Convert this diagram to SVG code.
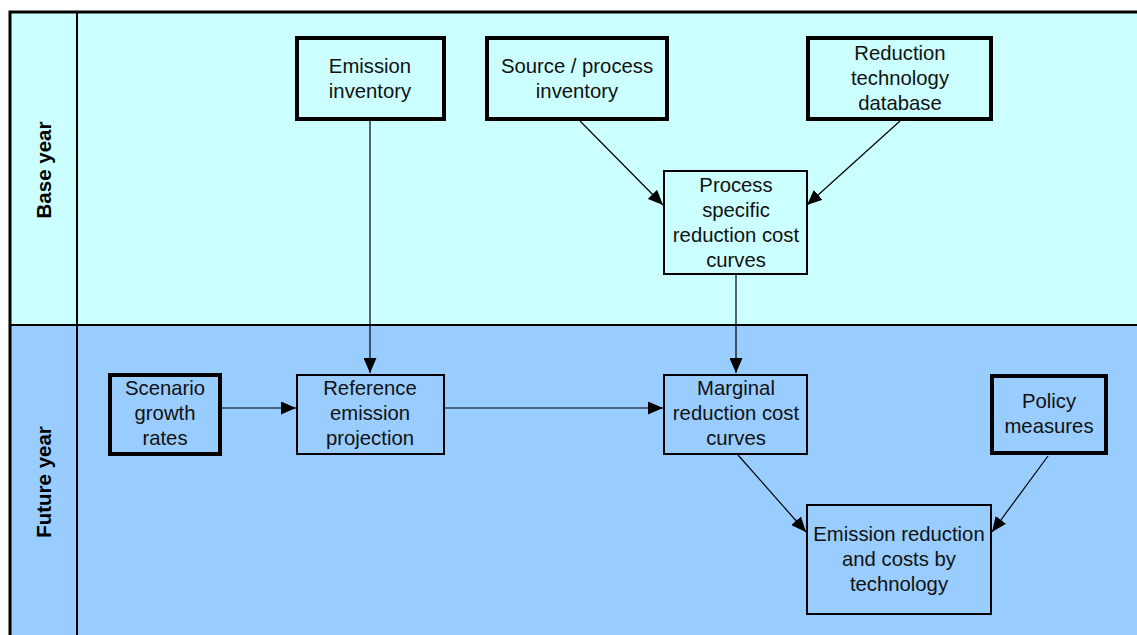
<svg xmlns="http://www.w3.org/2000/svg" width="1137" height="635" viewBox="0 0 1137 635">
<defs>
<style>
.t{font-family:"Liberation Sans",Arial,sans-serif;font-size:20.3px;fill:#111;text-anchor:middle}
.lane{font-family:"Liberation Sans",Arial,sans-serif;font-size:20.5px;font-weight:bold;fill:#000;text-anchor:middle}
.thick{stroke:#000;stroke-width:4}
.thin{stroke:#000;stroke-width:2}
.top{fill:#CCFFFF}
.bot{fill:#99CCFF}
.c{stroke:#000;stroke-width:1.2;fill:none;marker-end:url(#ah)}
</style>
<marker id="ah" viewBox="0 0 15 13" refX="15" refY="6.5" markerWidth="15" markerHeight="13" markerUnits="userSpaceOnUse" orient="auto">
<path d="M0,0 L15,6.5 L0,13 z" fill="#000"/>
</marker>
</defs>
<rect x="0" y="0" width="1137" height="635" fill="#fff"/>
<g id="lanes">
<rect x="10" y="12" width="1140" height="313" fill="#CCFFFF"/>
<rect x="10" y="325" width="1140" height="320" fill="#99CCFF"/>
<line x1="10" y1="325" x2="1140" y2="325" stroke="#000" stroke-width="2"/>
<line x1="77" y1="12" x2="77" y2="640" stroke="#000" stroke-width="2"/>
<rect x="10" y="12" width="1140" height="640" fill="none" stroke="#000" stroke-width="3"/>
<text class="lane" transform="translate(51,170) rotate(-90)">Base year</text>
<text class="lane" transform="translate(51,482) rotate(-90)">Future year</text>
</g>
<g id="connectors">
<line class="c" x1="370" y1="121" x2="370" y2="373"/>
<line class="c" x1="580" y1="121" x2="663" y2="205"/>
<line class="c" x1="900" y1="121" x2="807" y2="205"/>
<line class="c" x1="736" y1="274" x2="736" y2="373"/>
<line class="c" x1="221" y1="408" x2="296" y2="408"/>
<line class="c" x1="445" y1="408" x2="663" y2="408"/>
<line class="c" x1="738" y1="455" x2="806" y2="532"/>
<line class="c" x1="1048" y1="456" x2="992" y2="532"/>
</g>
<g id="emission-inventory">
<rect class="thick top" x="297" y="38" width="147" height="81"/>
<text class="t" x="370" y="73">Emission</text>
<text class="t" x="370" y="98">inventory</text>
</g>
<g id="source-process-inventory">
<rect class="thick top" x="487" y="38" width="180" height="81"/>
<text class="t" x="577" y="73">Source / process</text>
<text class="t" x="577" y="98">inventory</text>
</g>
<g id="reduction-technology-database">
<rect class="thick top" x="808" y="38" width="183" height="81"/>
<text class="t" x="900" y="60">Reduction</text>
<text class="t" x="900" y="85">technology</text>
<text class="t" x="900" y="110">database</text>
</g>
<g id="process-specific">
<rect class="thin top" x="664" y="171" width="143" height="103"/>
<text class="t" x="736" y="192">Process</text>
<text class="t" x="736" y="217">specific</text>
<text class="t" x="736" y="242">reduction cost</text>
<text class="t" x="736" y="267">curves</text>
</g>
<g id="scenario-growth-rates">
<rect class="thick bot" x="110" y="375" width="110" height="79"/>
<text class="t" x="165" y="395">Scenario</text>
<text class="t" x="165" y="420">growth</text>
<text class="t" x="165" y="445">rates</text>
</g>
<g id="reference-emission-projection">
<rect class="thin bot" x="297" y="375" width="147" height="79"/>
<text class="t" x="370" y="395">Reference</text>
<text class="t" x="370" y="420">emission</text>
<text class="t" x="370" y="445">projection</text>
</g>
<g id="marginal">
<rect class="thin bot" x="664" y="375" width="143" height="79"/>
<text class="t" x="736" y="395">Marginal</text>
<text class="t" x="736" y="420">reduction cost</text>
<text class="t" x="736" y="445">curves</text>
</g>
<g id="policy-measures">
<rect class="thick bot" x="992" y="376" width="114" height="77"/>
<text class="t" x="1049" y="408">Policy</text>
<text class="t" x="1049" y="433">measures</text>
</g>
<g id="emission-reduction">
<rect class="thin bot" x="807" y="505" width="184" height="109"/>
<text class="t" x="899" y="541">Emission reduction</text>
<text class="t" x="899" y="566">and costs by</text>
<text class="t" x="899" y="591">technology</text>
</g>
</svg>
